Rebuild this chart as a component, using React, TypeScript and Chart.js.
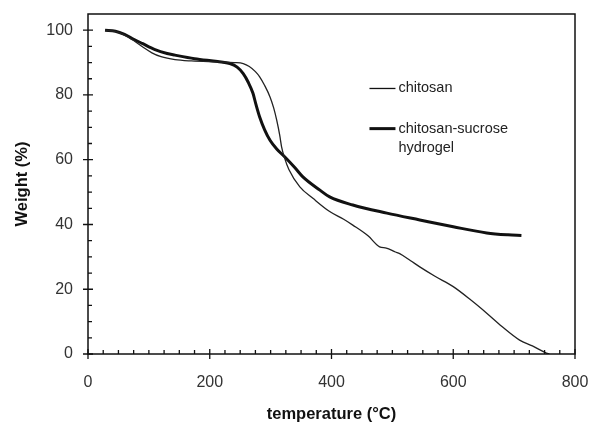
import React, { useEffect, useRef } from "react";
import { Chart, registerables } from "chart.js";

Chart.register(...registerables);

const chitosanTemp = [28, 45, 60, 75, 90, 105, 120, 143, 170, 213, 240, 255, 265, 275, 282, 290, 299, 305, 310, 315, 318, 323, 330, 348, 370, 397, 420, 435, 460, 479, 490, 505, 512, 530, 545, 570, 600, 630, 655, 680, 709, 730, 753, 758];
const chitosanWeight = [100, 99.6, 98.5, 96.8, 94.8, 93, 91.8, 90.9, 90.5, 90.2, 90, 89.7, 88.8, 87.2, 85.6, 83, 79.4, 76, 72.2, 67.5, 64, 60.5, 57, 51.6, 48, 44, 41.6, 39.8, 36.5, 33.1, 32.7, 31.5, 31, 28.8, 26.9, 24, 20.8, 16.5, 12.6, 8.5, 4.3, 2.5, 0.3, 0];

const hydrogelTemp = [28, 45, 60, 75, 89, 110, 130, 143, 175, 213, 233, 245, 255, 263, 271, 276, 282, 290, 299, 310, 323, 340, 353, 381, 397, 435, 491, 545, 600, 655, 690, 712];
const hydrogelWeight = [100, 99.7, 98.7, 97.2, 95.9, 94, 92.8, 92.3, 91.2, 90.3, 89.7, 88.6, 86.6, 84, 80.5, 77, 73.2, 69.3, 66, 63.3, 60.9, 57.5, 54.7, 50.6, 48.5, 46, 43.5, 41.4, 39.3, 37.4, 36.8, 36.6];

const xMajorTicks = [0, 200, 400, 600, 800];
const yMajorTicks = [0, 20, 40, 60, 80, 100];
const xMinorStep = 25;
const yMinorStep = 5;

const seriesNames = ["chitosan", "chitosan-sucrose\nhydrogel"];

const FONT = "'Liberation Sans', Arial, sans-serif";

const framePlugin = {
  id: "frameTicks",
  afterDraw(chart: any) {
    const { ctx, chartArea, scales } = chart;
    const xs = scales.x;
    const ys = scales.y;
    ctx.save();
    ctx.strokeStyle = "#111";
    ctx.lineWidth = 1.5;
    ctx.strokeRect(chartArea.left, chartArea.top, chartArea.right - chartArea.left, chartArea.bottom - chartArea.top);
    ctx.lineWidth = 1.3;
    ctx.beginPath();
    for (let v = 0; v <= 800; v += xMinorStep) {
      const px = xs.getPixelForValue(v);
      if (xMajorTicks.includes(v)) {
        ctx.moveTo(px, chartArea.bottom - 5);
        ctx.lineTo(px, chartArea.bottom + 5);
      } else {
        ctx.moveTo(px, chartArea.bottom - 4);
        ctx.lineTo(px, chartArea.bottom);
      }
    }
    for (let v = 0; v <= 100; v += yMinorStep) {
      const py = ys.getPixelForValue(v);
      if (yMajorTicks.includes(v)) {
        ctx.moveTo(chartArea.left - 5, py);
        ctx.lineTo(chartArea.left + 5, py);
      } else {
        ctx.moveTo(chartArea.left, py);
        ctx.lineTo(chartArea.left + 4, py);
      }
    }
    ctx.stroke();

    const lx = xs.getPixelForValue(510);
    const entries = [
      { y: ys.getPixelForValue(82), w: 1.3 },
      { y: ys.getPixelForValue(69.6), w: 3 },
    ];
    ctx.font = "14.5px " + FONT;
    ctx.fillStyle = "#222";
    ctx.textBaseline = "middle";
    ctx.textAlign = "left";
    entries.forEach((e, i) => {
      ctx.beginPath();
      ctx.lineWidth = e.w;
      ctx.strokeStyle = "#111";
      ctx.moveTo(lx - 29, e.y);
      ctx.lineTo(lx - 3, e.y);
      ctx.stroke();
      const lines = seriesNames[i].split("\n");
      lines.forEach((t, j) => {
        ctx.fillText(t, lx, e.y + j * 19);
      });
    });
    ctx.restore();
  },
};

export default function App() {
  const ref = useRef<HTMLCanvasElement>(null);
  useEffect(() => {
    if (!ref.current) return;
    const chart = new Chart(ref.current, {
      type: "line",
      data: {
        datasets: [
          {
            label: "chitosan",
            data: chitosanTemp.map((x, i) => ({ x, y: chitosanWeight[i] })),
            borderColor: "#222",
            borderWidth: 1.3,
            pointRadius: 0,
            fill: false,
            cubicInterpolationMode: "monotone",
          },
          {
            label: "chitosan-sucrose hydrogel",
            data: hydrogelTemp.map((x, i) => ({ x, y: hydrogelWeight[i] })),
            borderColor: "#111",
            borderWidth: 3,
            pointRadius: 0,
            fill: false,
            cubicInterpolationMode: "monotone",
          },
        ],
      },
      options: {
        animation: false,
        responsive: false,
        layout: { padding: { left: 0, top: 14, right: 15, bottom: 0 } },
        plugins: { legend: { display: false }, tooltip: { enabled: false } },
        scales: {
          x: {
            type: "linear",
            min: 0,
            max: 800,
            afterBuildTicks: (s: any) => {
              s.ticks = xMajorTicks.map((v) => ({ value: v }));
            },
            afterFit: (s: any) => {
              s.height = 70;
              s.paddingLeft = 0;
              s.paddingRight = 0;
            },
            grid: { display: true, drawOnChartArea: false, drawTicks: false, color: "rgba(0,0,0,0)" },
            border: { display: false },
            ticks: { color: "#333", font: { family: FONT, size: 16 }, padding: 19, maxRotation: 0 },
            title: {
              display: true,
              text: "temperature (°C)",
              color: "#111",
              font: { family: FONT, size: 16.5, weight: "bold" },
              padding: { top: 6, bottom: 0 },
            },
          },
          y: {
            type: "linear",
            min: 0,
            max: 105,
            afterBuildTicks: (s: any) => {
              s.ticks = yMajorTicks.map((v) => ({ value: v }));
            },
            afterFit: (s: any) => {
              s.width = 88;
              s.paddingTop = 0;
              s.paddingBottom = 0;
            },
            grid: { display: true, drawOnChartArea: false, drawTicks: false, color: "rgba(0,0,0,0)" },
            border: { display: false },
            ticks: { color: "#333", font: { family: FONT, size: 16 }, padding: 15 },
            title: {
              display: true,
              text: "Weight (%)",
              color: "#111",
              font: { family: FONT, size: 16.5, weight: "bold" },
              padding: { top: 13, bottom: 4 },
            },
          },
        },
      },
      plugins: [framePlugin],
    } as any);
    return () => chart.destroy();
  }, []);
  return (
    <div style={{ position: "absolute", left: 0, top: 0, width: 590, height: 424, background: "#fff" }}>
      <canvas ref={ref} width={590} height={424} />
    </div>
  );
}
